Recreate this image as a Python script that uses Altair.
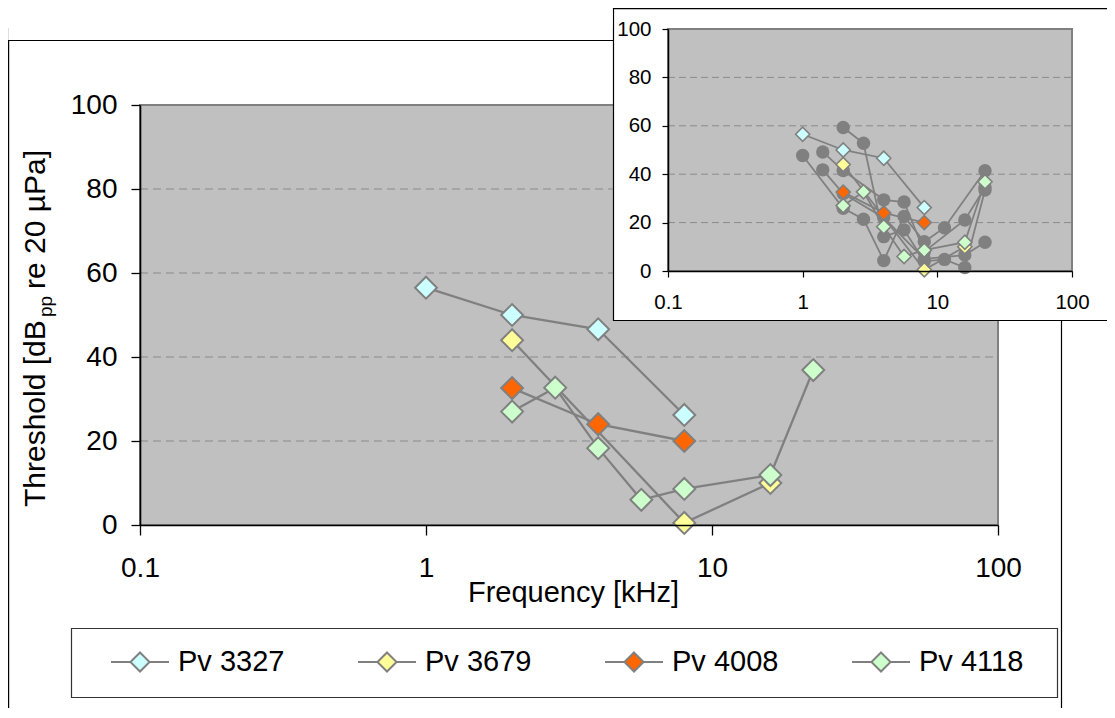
import altair as alt
import pandas as pd

# ---------------- data ----------------
series_names = ["Pv 3327", "Pv 3679", "Pv 4008", "Pv 4118"]
series_fills = ["#CCFFFF", "#FFFF99", "#FF6600", "#CCFFCC"]

pv3327_freq = [1, 2, 4, 8]
pv3327_thr = [56.5, 50.0, 46.6, 26.2]
pv3679_freq = [2, 8, 16]
pv3679_thr = [44.0, 0.5, 10.0]
pv4008_freq = [2, 4, 8]
pv4008_thr = [32.6, 24.0, 20.0]
pv4118_freq = [2, 2.83, 4, 5.66, 8, 16, 22.6]
pv4118_thr = [27.0, 32.7, 18.3, 6.0, 8.6, 11.9, 36.9]

# other animals shown only in the inset (grey circles)
other_names = ["A", "B", "C", "D"]
a_freq = [2, 2.83, 4, 5.66, 8, 11.3, 16, 22.6]
a_thr = [59.3, 52.8, 14.2, 17.0, 4.0, 4.8, 1.4, 33.5]
b_freq = [1, 2, 2.83, 4, 5.66, 8, 11.3, 22.6]
b_thr = [47.7, 25.9, 21.4, 4.3, 22.5, 12.1, 17.9, 41.4]
c_freq = [1.41, 2, 4, 5.66, 8, 16, 22.6]
c_thr = [49.2, 41.5, 29.4, 28.5, 8.0, 21.1, 34.5]
d_freq = [1.41, 2, 4, 8, 16, 22.6]
d_thr = [41.8, 32.0, 22.0, 5.0, 6.6, 11.9]

x_ticks = [0.1, 1, 10, 100]
y_ticks = [0, 20, 40, 60, 80, 100]
grid_levels = [20, 40, 60, 80]


def to_long(names, freqs, thrs):
    rows = []
    for n, fs, ts in zip(names, freqs, thrs):
        for f, t in zip(fs, ts):
            rows.append({"series": n, "freq": f, "thr": t})
    return pd.DataFrame(rows)


pv = to_long(series_names, [pv3327_freq, pv3679_freq, pv4008_freq, pv4118_freq],
             [pv3327_thr, pv3679_thr, pv4008_thr, pv4118_thr])
other = to_long(other_names, [a_freq, b_freq, c_freq, d_freq],
                [a_thr, b_thr, c_thr, d_thr])
area = pd.DataFrame({"f0": [0.1], "f1": [100], "t0": [0], "t1": [100]})
grid = pd.DataFrame({"t": grid_levels, "f0": [0.1] * 4, "f1": [100] * 4})
one = pd.DataFrame({"k": [0]})

FONT = "Liberation Sans"
W, H = 1099, 700
GREY = "#808080"


def mxs():
    return alt.Scale(type="log", domain=[0.1, 100], range=[132, 990], nice=False)


def mys():
    return alt.Scale(domain=[0, 100], range=[517, 97], nice=False, zero=False)


def ixs():
    return alt.Scale(type="log", domain=[0.1, 100], range=[660, 1064], nice=False)


def iys():
    return alt.Scale(domain=[0, 100], range=[263, 21], nice=False, zero=False)


fill_scale = alt.Scale(domain=series_names, range=series_fills)

# ---------------- main chart ----------------
main_x_axis = alt.Axis(orient="bottom", offset=517 - H, values=x_ticks, format="~g",
                       grid=False, tickSize=10, tickWidth=1.3, tickColor="black",
                       domainColor="black", domainWidth=1.6, labelFontSize=28,
                       labelColor="black", labelPadding=19, labelFlush=False,
                       labelOverlap=False, title="Frequency [kHz]", titleFontSize=29,
                       titleFontWeight="normal", titleColor="black", titleY=53,
                       titleX=565, titleBaseline="top", zindex=2)
main_y_axis = alt.Axis(orient="left", offset=-132, values=y_ticks, format="d",
                       grid=False, tickSize=9, tickWidth=1.3, tickColor="black",
                       domainColor="black", domainWidth=1.6, labelFontSize=28,
                       labelColor="black", labelPadding=14, labelFlush=False,
                       labelOverlap=False, title=None, zindex=2)

legend = alt.Legend(title=None, orient="none", legendX=102, legendY=624,
                    direction="horizontal", columns=4, columnPadding=69,
                    symbolType="M-1,0L-0.33,0M0.33,0L1,0M0,-0.33L0.33,0L0,0.33L-0.33,0Z",
                    symbolSize=3364, symbolStrokeColor=GREY, symbolStrokeWidth=2,
                    symbolOpacity=1, labelFontSize=29, labelFont=FONT,
                    labelColor="black", labelOffset=8, padding=0, zindex=2)

m_area = alt.Chart(area).mark_rect(fill="#C0C0C0", stroke=GREY, strokeWidth=2).encode(
    x=alt.X("f0:Q", scale=mxs(), axis=main_x_axis), x2="f1:Q",
    y=alt.Y("t0:Q", scale=mys(), axis=main_y_axis), y2="t1:Q")
m_grid = alt.Chart(grid).mark_rule(color="#8a8a8a", strokeWidth=1, strokeDash=[8, 5]).encode(
    x=alt.X("f0:Q", scale=mxs(), axis=None), x2="f1:Q",
    y=alt.Y("t:Q", scale=mys(), axis=None))
m_lines = alt.Chart(pv).mark_line(color=GREY, strokeWidth=2.3).encode(
    x=alt.X("freq:Q", scale=mxs(), axis=None), y=alt.Y("thr:Q", scale=mys(), axis=None),
    detail="series:N")
m_pts = alt.Chart(pv).mark_point(shape="diamond", filled=True, size=480, stroke=GREY,
                                 strokeWidth=2, opacity=1).encode(
    x=alt.X("freq:Q", scale=mxs(), axis=None), y=alt.Y("thr:Q", scale=mys(), axis=None),
    fill=alt.Fill("series:N", scale=fill_scale, legend=legend))

# ---------------- inset ----------------
ins_x_axis = alt.Axis(orient="bottom", offset=263 - H, values=x_ticks, format="~g",
                      grid=False, tickSize=6, tickWidth=1.2, tickColor="black",
                      domainColor="black", domainWidth=1.5, labelFontSize=20.5,
                      labelColor="black", labelPadding=15, labelFlush=False,
                      labelOverlap=False, title=None, zindex=2)
ins_y_axis = alt.Axis(orient="left", offset=-660, values=y_ticks, format="d",
                      grid=False, tickSize=6, tickWidth=1.2, tickColor="black",
                      domainColor="black", domainWidth=1.5, labelFontSize=20.5,
                      labelColor="black", labelPadding=11, labelFlush=False,
                      labelOverlap=False, title=None, zindex=2)

i_area = alt.Chart(area).mark_rect(fill="#C0C0C0", stroke=GREY, strokeWidth=2).encode(
    x=alt.X("f0:Q", scale=ixs(), axis=ins_x_axis), x2="f1:Q",
    y=alt.Y("t0:Q", scale=iys(), axis=ins_y_axis), y2="t1:Q")
i_grid = alt.Chart(grid).mark_rule(color="#8a8a8a", strokeWidth=1, strokeDash=[7, 4]).encode(
    x=alt.X("f0:Q", scale=ixs(), axis=None), x2="f1:Q",
    y=alt.Y("t:Q", scale=iys(), axis=None))
i_olines = alt.Chart(other).mark_line(color=GREY, strokeWidth=1.8).encode(
    x=alt.X("freq:Q", scale=ixs(), axis=None), y=alt.Y("thr:Q", scale=iys(), axis=None),
    detail="series:N")
i_opts = alt.Chart(other).mark_circle(color=GREY, size=180, opacity=1).encode(
    x=alt.X("freq:Q", scale=ixs(), axis=None), y=alt.Y("thr:Q", scale=iys(), axis=None))
i_lines = alt.Chart(pv).mark_line(color=GREY, strokeWidth=1.8).encode(
    x=alt.X("freq:Q", scale=ixs(), axis=None), y=alt.Y("thr:Q", scale=iys(), axis=None),
    detail="series:N")
i_pts = alt.Chart(pv).mark_point(shape="diamond", filled=True, size=200, stroke=GREY,
                                 strokeWidth=1.6, opacity=1).encode(
    x=alt.X("freq:Q", scale=ixs(), axis=None), y=alt.Y("thr:Q", scale=iys(), axis=None),
    fill=alt.Fill("series:N", scale=fill_scale, legend=None))

# ---------------- frames and y title ----------------
main_frame = alt.Chart(one).mark_rect(fill="white", fillOpacity=0, stroke="black",
                                      strokeWidth=1.2).encode(
    x=alt.value(0.6), x2=alt.value(1053.5), y=alt.value(32.5), y2=alt.value(760))
inset_frame = alt.Chart(one).mark_rect(fill="white", stroke="black", strokeWidth=1.2).encode(
    x=alt.value(605.5), x2=alt.value(1140), y=alt.value(0.6), y2=alt.value(312.5))
legend_box = alt.Chart(one).mark_rect(fill="white", fillOpacity=0, stroke="#333333",
                                      strokeWidth=1.2).encode(
    x=alt.value(63.5), x2=alt.value(1049.5), y=alt.value(620.5), y2=alt.value(689.5))
top_cover = alt.Chart(one).mark_rect(fill="white", strokeWidth=0).encode(
    x=alt.value(0), x2=alt.value(604.5), y=alt.value(0), y2=alt.value(20))

t_a = alt.Chart(pd.DataFrame({"txt": ["Threshold [dB"]})).mark_text(
    angle=270, align="left", baseline="alphabetic", fontSize=30, font=FONT,
    color="black").encode(x=alt.value(37), y=alt.value(499), text="txt:N")
t_b = alt.Chart(pd.DataFrame({"txt": ["pp"]})).mark_text(
    angle=270, align="left", baseline="alphabetic", fontSize=19, font=FONT,
    color="black").encode(x=alt.value(44), y=alt.value(309), text="txt:N")
t_c = alt.Chart(pd.DataFrame({"txt": ["re 20 µPa]"]})).mark_text(
    angle=270, align="left", baseline="alphabetic", fontSize=30, font=FONT,
    color="black").encode(x=alt.value(37), y=alt.value(281), text="txt:N")

chart = alt.layer(
    main_frame, m_area, m_grid, m_lines, m_pts, legend_box, inset_frame,
    i_area, i_grid, i_olines, i_opts, i_lines, i_pts, t_a, t_b, t_c, top_cover
).resolve_scale(x="independent", y="independent").resolve_axis(
    x="independent", y="independent").properties(
    width=W, height=H, padding=0, background="white",
    autosize=alt.AutoSizeParams(type="none")).configure_view(
    stroke=None).configure(font=FONT).configure_axis(
    labelFont=FONT, titleFont=FONT)

chart.save("out.html", embed_options={"renderer": "svg", "actions": False})
